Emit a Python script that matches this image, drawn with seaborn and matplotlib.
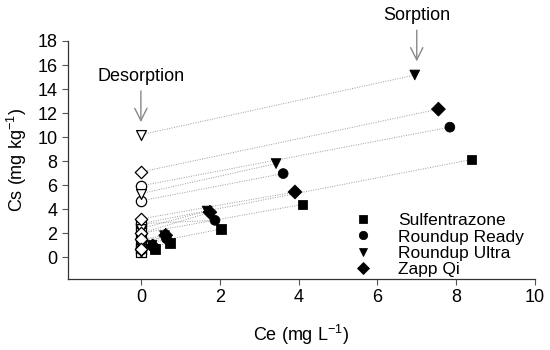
import numpy as np
import pandas as pd
import matplotlib
matplotlib.use("Agg")
import matplotlib.pyplot as plt
import seaborn as sns

herbicides = ["Sulfentrazone", "Roundup Ready", "Roundup Ultra", "Zapp Qi"]
markers = {"Sulfentrazone": "s", "Roundup Ready": "o", "Roundup Ultra": "v", "Zapp Qi": "D"}

# Sorption (filled markers): Ce, Cs
sulf_ce = [8.39, 4.10, 2.03, 0.74, 0.35]
sulf_cs = [8.14, 4.40, 2.35, 1.20, 0.72]
ready_ce = [7.84, 3.61, 1.88, 0.65, 0.30]
ready_cs = [10.83, 6.97, 3.08, 1.55, 0.90]
ultra_ce = [6.95, 3.43, 1.68, 0.60, 0.28]
ultra_cs = [15.17, 7.80, 3.85, 1.80, 1.00]
zapp_ce = [7.55, 3.91, 1.75, 0.63, 0.30]
zapp_cs = [12.33, 5.44, 3.75, 1.83, 0.95]

# Desorption (open markers at Ce = 0): Cs
sulf_des = [2.80, 2.00, 1.06, 0.67, 0.45]
ready_des = [5.95, 4.70, 2.80, 1.50, 0.67]
ultra_des = [10.20, 5.30, 2.40, 1.06, 0.45]
zapp_des = [7.10, 3.20, 2.00, 1.50, 0.67]

x_ticks = [0, 2, 4, 6, 8, 10]
y_ticks = [0, 2, 4, 6, 8, 10, 12, 14, 16, 18]

sorp = {"Sulfentrazone": (sulf_ce, sulf_cs), "Roundup Ready": (ready_ce, ready_cs),
        "Roundup Ultra": (ultra_ce, ultra_cs), "Zapp Qi": (zapp_ce, zapp_cs)}
des = {"Sulfentrazone": sulf_des, "Roundup Ready": ready_des,
       "Roundup Ultra": ultra_des, "Zapp Qi": zapp_des}

rows_s, rows_d, rows_l = [], [], []
for h in herbicides:
    ce, cs = sorp[h]
    for i, (x, y) in enumerate(zip(ce, cs)):
        rows_s.append({"Herbicide": h, "Ce": x, "Cs": y})
        rows_d.append({"Herbicide": h, "Ce": 0.0, "Cs": des[h][i]})
        uid = f"{h}-{i}"
        rows_l.append({"unit": uid, "Ce": x, "Cs": y})
        rows_l.append({"unit": uid, "Ce": 0.0, "Cs": des[h][i]})
df_s = pd.DataFrame(rows_s)
df_d = pd.DataFrame(rows_d)
df_l = pd.DataFrame(rows_l)

sns.set_theme(style="ticks")
plt.rcParams["font.family"] = ["Liberation Sans", "DejaVu Sans"]
plt.rcParams["mathtext.fontset"] = "custom"
plt.rcParams["mathtext.rm"] = "Liberation Sans"
plt.rcParams["mathtext.it"] = "Liberation Sans"
plt.rcParams["text.color"] = "black"
plt.rcParams["axes.labelcolor"] = "black"
plt.rcParams["xtick.color"] = "black"
plt.rcParams["ytick.color"] = "black"

fig = plt.figure(figsize=(5.5, 3.5), dpi=100)
ax = fig.add_axes([0.1236, 0.2029, 0.8491, 0.68])

sns.lineplot(data=df_l, x="Ce", y="Cs", units="unit", estimator=None, ax=ax,
             color="#9a9a9a", linestyle=(0, (1, 1.5)), linewidth=0.7, legend=False,
             sort=False)

sizes_map = {"Sulfentrazone": 45, "Roundup Ready": 55, "Roundup Ultra": 50, "Zapp Qi": 40}
for h in herbicides:
    sub_d = df_d[df_d["Herbicide"] == h]
    ax.scatter(sub_d["Ce"], sub_d["Cs"], marker=markers[h], s=sizes_map[h],
               facecolor="white", edgecolor="black", linewidth=0.9, zorder=3)

sns.scatterplot(data=df_s, x="Ce", y="Cs", style="Herbicide", markers=markers,
                style_order=herbicides, color="black", edgecolor="black",
                s=50, ax=ax, zorder=4)

ax.set_xlim(-1.85, 10)
ax.set_ylim(-1.8, 18)
ax.set_xticks(x_ticks)
ax.set_yticks(y_ticks)
ax.tick_params(axis="both", labelsize=13, length=4, width=0.8, direction="out",
               color="#555555", labelcolor="black")
for sp in ["top", "right"]:
    ax.spines[sp].set_visible(False)
for sp in ["left", "bottom"]:
    ax.spines[sp].set_linewidth(0.9)
    ax.spines[sp].set_color("#333333")

ax.set_xlabel("Ce (mg L$^{-1}$)", fontsize=13, labelpad=12)
ax.set_ylabel("Cs (mg kg$^{-1}$)", fontsize=13, labelpad=6)

leg = ax.legend(loc="lower left", bbox_to_anchor=(0.579, -0.022), frameon=False,
                fontsize=12.5, handletextpad=1.05, labelspacing=0.07, markerscale=0.85,
                title=None, borderaxespad=0.0)

ax.annotate("Sorption", xy=(7.0, 16.3), xytext=(7.0, 19.4), ha="center", va="bottom",
            fontsize=13, annotation_clip=False,
            arrowprops=dict(arrowstyle="->", color="#888888", lw=1.0,
                            mutation_scale=22, shrinkA=2, shrinkB=0))
ax.annotate("Desorption", xy=(0.0, 11.25), xytext=(0.0, 14.35), ha="center", va="bottom",
            fontsize=13, annotation_clip=False,
            arrowprops=dict(arrowstyle="->", color="#888888", lw=1.0,
                            mutation_scale=22, shrinkA=2, shrinkB=0))

fig.savefig("out.png", dpi=100)
